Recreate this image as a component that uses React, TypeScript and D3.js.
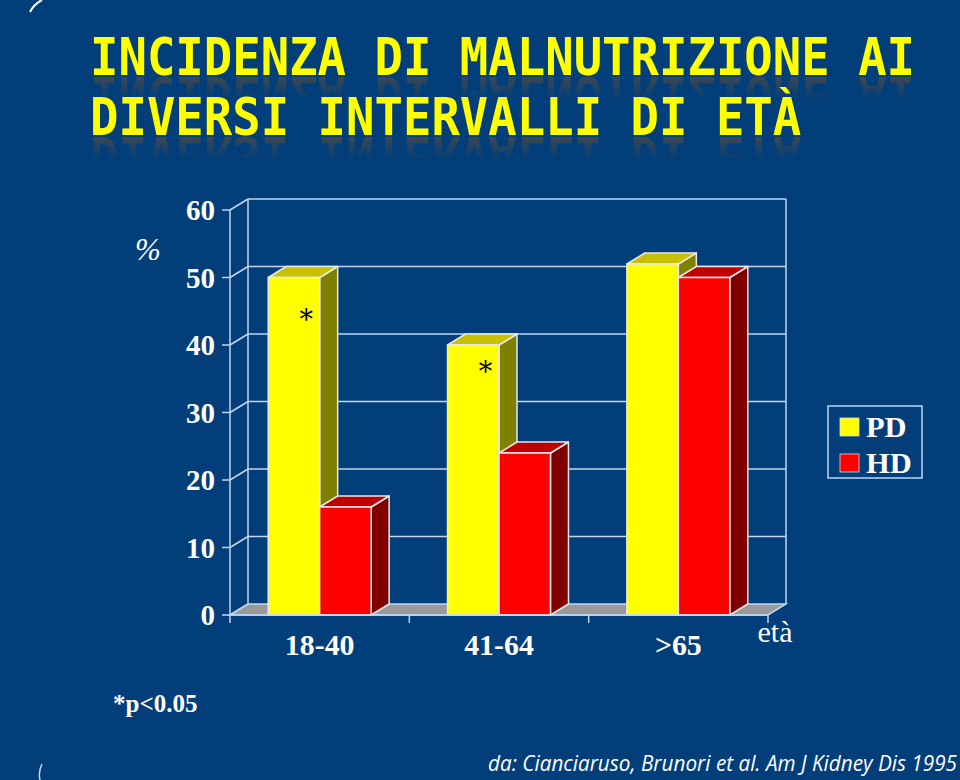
import React from "react";
import * as d3 from "d3";

const categories = ["18-40", "41-64", ">65"];
const seriesNames = ["PD", "HD"];
const pdValues = [50, 40, 52];
const hdValues = [16, 24, 50];
const yTicks = [0, 10, 20, 30, 40, 50, 60];
// significance markers: category and value level of the asterisk (PD bars)
const markerCats = ["18-40", "41-64"];
const markerLevels = [44.3, 36.6];

const titleLines = ["INCIDENZA DI MALNUTRIZIONE AI", "DIVERSI INTERVALLI DI ETÀ"];
const yLabel = "%";
const xLabel = "età";
const footnote = "*p<0.05";
const citation = "da: Cianciaruso, Brunori et al. Am J Kidney Dis 1995";

const BG = "#013e7a";
const LINE = "#c4d6ee";
const EDGE = "#e8e8e8";
const colors: Record<string, { front: string; top: string; side: string }> = {
  PD: { front: "#ffff00", top: "#c8c000", side: "#808000" },
  HD: { front: "#ff0000", top: "#c00000", side: "#800000" },
};

const W = 960;
const H = 780;
const DX = 18;
const DY = -11;

function SerifText(props: {
  x: number; y: number; text: string; size: number; anchor?: string;
  bold?: boolean; italic?: boolean; fill?: string; sx?: number;
}) {
  const { x, y, text, size, anchor = "start", bold = true, italic = false, fill = "#fff", sx = 1.0 } = props;
  return (
    <text
      transform={`translate(${x},${y}) scale(${sx},1)`}
      fontFamily="'Liberation Serif', 'DejaVu Serif', serif"
      fontSize={size}
      fontWeight={bold ? "bold" : "normal"}
      fontStyle={italic ? "italic" : "normal"}
      textAnchor={anchor}
      fill={fill}
    >
      {text}
    </text>
  );
}

export default function App() {
  const y = d3.scaleLinear().domain([0, 60]).range([615, 210]);
  const x = d3.scaleBand<string>().domain(categories).range([230, 768]).paddingInner(0).paddingOuter(0);
  const bw = x.bandwidth();
  const inner = d3.scaleBand<string>().domain(seriesNames).range([bw * 0.213, bw * 0.787]).padding(0);
  const barW = inner.bandwidth();

  const xL = 230, xR = 768, y0 = y(0), yTop = y(60);

  const bars: { cat: string; s: string; v: number }[] = [];
  categories.forEach((c, i) => {
    bars.push({ cat: c, s: "PD", v: pdValues[i] });
    bars.push({ cat: c, s: "HD", v: hdValues[i] });
  });

  const catTicks = [...categories.map((c) => x(c) as number), xR];

  const titleX = 90;
  const titleBaselines = [75, 135];
  const charW = 28.45;

  return (
    <svg width={W} height={H} style={{ position: "absolute", left: 0, top: 0 }}>
      <defs>
        <linearGradient id="reflGrad" x1="0" y1="0" x2="0" y2="1">
          <stop offset="0" stopColor="#fff" stopOpacity="0.85" />
          <stop offset="1" stopColor="#fff" stopOpacity="0" />
        </linearGradient>
        {titleBaselines.map((b, i) => (
          <mask id={`reflMask${i}`} key={i} maskUnits="userSpaceOnUse" x="0" y="0" width={W} height={H}>
            <rect x={0} y={b + 1} width={W} height={24} fill="url(#reflGrad)" />
          </mask>
        ))}
      </defs>
      <rect x={0} y={0} width={W} height={H} fill={BG} />
      {/* corner arcs */}
      <path d="M 30 12 Q 34 4 42 0" fill="none" stroke="#ffffff" strokeWidth={2} />
      <path d="M 40 780 Q 38 772 42 764" fill="none" stroke="#ffffff" strokeWidth={1.5} opacity={0.8} />

      {/* Title reflections */}
      {titleLines.map((t, i) => (
        <g key={`r${i}`} mask={`url(#reflMask${i})`}>
          <text
            x={titleX}
            y={titleBaselines[i]}
            transform={`translate(0,${2 * titleBaselines[i] + 2}) scale(1,-1)`}
            fontFamily="'DejaVu Sans Mono', monospace"
            fontWeight="bold"
            fontSize={51}
            textLength={t.length * charW}
            lengthAdjust="spacingAndGlyphs"
            fill="#4a4a4a"
          >
            {t}
          </text>
        </g>
      ))}
      {/* Title */}
      {titleLines.map((t, i) => (
        <text
          key={`t${i}`}
          x={titleX}
          y={titleBaselines[i]}
          fontFamily="'DejaVu Sans Mono', monospace"
          fontWeight="bold"
          fontSize={51}
          textLength={t.length * charW}
          lengthAdjust="spacingAndGlyphs"
          fill="#ffff00"
        >
          {t}
        </text>
      ))}

      {/* back wall grid */}
      {yTicks.map((t) => (
        <g key={t}>
          {t > 0 && (
            <line x1={xL + DX} x2={xR + DX} y1={y(t) + DY} y2={y(t) + DY} stroke={LINE} strokeWidth={1.5} />
          )}
          <line x1={xL} x2={xL + DX} y1={y(t)} y2={y(t) + DY} stroke={LINE} strokeWidth={1.5} />
          <line x1={xL - 8} x2={xL} y1={y(t)} y2={y(t)} stroke={LINE} strokeWidth={1.5} />
        </g>
      ))}
      <line x1={xL + DX} x2={xL + DX} y1={y0 + DY} y2={yTop + DY} stroke={LINE} strokeWidth={1.5} />
      <line x1={xR + DX} x2={xR + DX} y1={y0 + DY} y2={yTop + DY} stroke={LINE} strokeWidth={1.5} />

      {/* floor */}
      <polygon
        points={`${xL},${y0} ${xR},${y0} ${xR + DX},${y0 + DY} ${xL + DX},${y0 + DY}`}
        fill="#999999"
        stroke={LINE}
        strokeWidth={1.5}
      />

      {/* bars */}
      {bars.map((b, i) => {
        const bx = (x(b.cat) as number) + (inner(b.s) as number);
        const by = y(b.v);
        const c = colors[b.s];
        return (
          <g key={i} stroke={EDGE} strokeWidth={1.5} strokeLinejoin="round">
            <polygon
              points={`${bx + barW},${by} ${bx + barW + DX},${by + DY} ${bx + barW + DX},${y0 + DY} ${bx + barW},${y0}`}
              fill={c.side}
            />
            <polygon
              points={`${bx},${by} ${bx + DX},${by + DY} ${bx + barW + DX},${by + DY} ${bx + barW},${by}`}
              fill={c.top}
            />
            <rect x={bx} y={by} width={barW} height={y0 - by} fill={c.front} />
          </g>
        );
      })}

      {/* front axis */}
      <line x1={xL} x2={xL} y1={y0} y2={yTop} stroke={LINE} strokeWidth={1.5} />
      <line x1={xL} x2={xR} y1={y0} y2={y0} stroke={LINE} strokeWidth={1.5} />
      {catTicks.map((cx, i) => (
        <line key={i} x1={cx} x2={cx} y1={y0} y2={y0 + 8} stroke={LINE} strokeWidth={1.5} />
      ))}

      {/* asterisks */}
      {markerCats.map((c, i) => {
        const bx = (x(c) as number) + (inner(c) === undefined ? (inner("PD") as number) : (inner("PD") as number));
        return (
          <text
            key={i}
            x={bx + barW * 0.74}
            y={y(markerLevels[i]) + 13}
            fontFamily="'DejaVu Serif', serif"
            fontSize={27}
            textAnchor="middle"
            fill="#000"
          >
            *
          </text>
        );
      })}

      {/* y tick labels */}
      {yTicks.map((t) => (
        <SerifText key={t} x={215} y={y(t) + 10} text={String(t)} size={29} anchor="end" />
      ))}
      <SerifText x={148} y={260} text={yLabel} size={31} anchor="middle" bold={false} italic={true} />

      {/* x labels */}
      {categories.map((c) => (
        <SerifText key={c} x={(x(c) as number) + bw / 2} y={655} text={c} size={29} anchor="middle" sx={1.03} />
      ))}
      <SerifText x={775} y={642} text={xLabel} size={30} anchor="middle" bold={false} />

      {/* legend */}
      <rect x={828} y={406} width={94} height={72} fill="none" stroke={LINE} strokeWidth={1.5} />
      {seriesNames.map((s, i) => (
        <g key={s}>
          <rect x={840} y={418 + i * 36} width={19} height={18} fill={colors[s].front} stroke="#ddd" strokeWidth={0.8} />
          <SerifText x={866} y={437 + i * 36} text={s} size={29} sx={1.05} />
        </g>
      ))}

      {/* footnote */}
      <SerifText x={113} y={712} text={footnote} size={25} />
      <text
        x={488}
        y={771}
        fontFamily="'Open Sans', 'Noto Sans', sans-serif"
        fontStyle="italic"
        fontSize={21}
        textLength={469}
        lengthAdjust="spacingAndGlyphs"
        fill="#fff"
      >
        {citation}
      </text>
    </svg>
  );
}
